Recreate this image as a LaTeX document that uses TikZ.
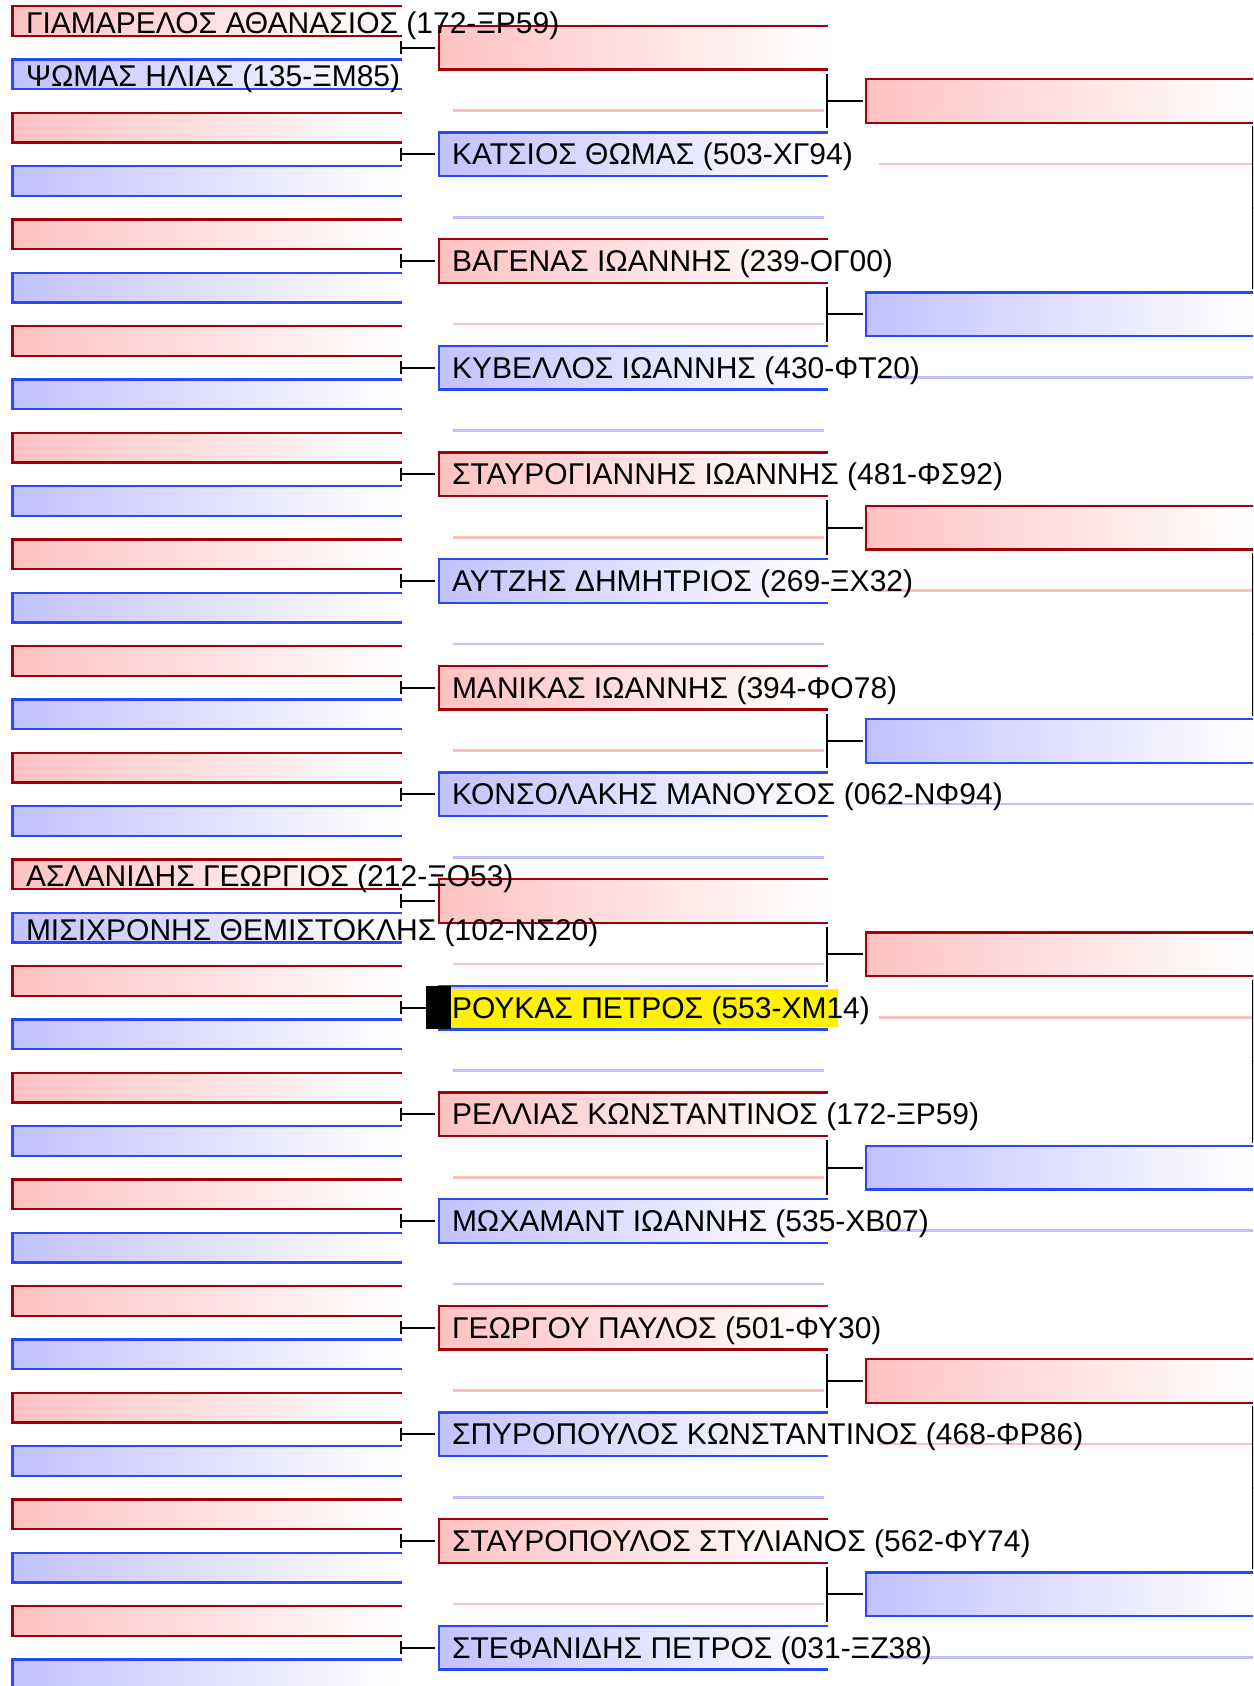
\documentclass[tikz,border=0pt]{standalone}
\usepackage{fontspec}
\setmainfont{Liberation Sans}
\usetikzlibrary{calc}
\definecolor{edgered}{RGB}{160,0,8}
\definecolor{edgeblue}{RGB}{42,72,245}
\tikzstyle{slot} = [rectangle, inner sep=0, minimum width=389pt, right color=white]
\tikzstyle{player} = [anchor=base west, inner sep=0, font=\fontsize{30}{34}\selectfont]
\tikzstyle{bracket} = [black, line width=2pt]
\tikzstyle{pale} = [line width=2.4pt]

\begin{document}
\begin{tikzpicture}[x=1pt, y=-1pt]

    \path[use as bounding box, fill=white] (0,0) rectangle (1253,1686);
    \clip (0,0) rectangle (1253,1686);

    % Round 1: 32 slots
    \foreach \k in {0,...,31}{
        \ifodd\k \def\fc{blue!24}\def\ec{edgeblue}\else \def\fc{red!24}\def\ec{edgered}\fi
        \node (a\k) at (207, {21+53.333*\k}) [slot, left color=\fc, minimum height=29.5pt] {};
        \draw[\ec, line width=2.4pt] (a\k.north east) -- (a\k.north west) -- (a\k.south west) -- (a\k.south east);
    }

    % Round 2: 16 slots, joined to the pairs of round 1
    \foreach \j in {0,...,15}{
        \ifodd\j \def\fc{blue!24}\def\ec{edgeblue}\def\pc{blue!25}\else \def\fc{red!24}\def\ec{edgered}\def\pc{red!25}\fi
        \pgfmathtruncatemacro\ka{2*\j}
        \pgfmathtruncatemacro\kb{2*\j+1}
        \node (b\j) at (633.5, {47.67+106.667*\j}) [slot, left color=\fc, minimum height=43.3pt] {};
        \draw[\ec, line width=2.4pt] (b\j.north east) -- (b\j.north west) -- (b\j.south west) -- (b\j.south east);
        \draw[pale, \pc] ($(b\j.west)+(14,63)$) -- ($(b\j.east)+(-4,63)$);
        \coordinate (p\j) at ($(a\ka.east)!0.5!(a\kb.east)+(-1,0)$);
        \draw[bracket] ($(p\j)+(0,-6.7)$) -- ($(p\j)+(0,6.7)$);
        \draw[bracket, shorten >=4pt] (p\j) -- (p\j -| b\j.west);
    }

    % Round 3: 8 slots, joined to the pairs of round 2
    \foreach \m in {0,...,7}{
        \ifodd\m \def\fc{blue!24}\def\ec{edgeblue}\def\pc{blue!25}\else \def\fc{red!24}\def\ec{edgered}\def\pc{red!25}\fi
        \pgfmathtruncatemacro\ja{2*\m}
        \pgfmathtruncatemacro\jb{2*\m+1}
        \node (c\m) at (1060.5, {101+213.333*\m}) [slot, left color=\fc, minimum height=43.3pt] {};
        \draw[\ec, line width=2.4pt] (c\m.north east) -- (c\m.north west) -- (c\m.south west) -- (c\m.south east);
        \draw[pale, \pc] ($(c\m.west)+(13,63)$) -- ($(c\m.east)+(0,63)$);
        \coordinate (q\m) at ($(b\ja.east)!0.5!(b\jb.east)+(-1.3,0)$);
        \draw[bracket] ($(q\m)+(0,-27.2)$) -- ($(q\m)+(0,27.2)$);
        \draw[bracket, shorten >=3.3pt] (q\m) -- (q\m -| c\m.west);
    }

    % Round 4: only the bars at the right edge
    \foreach \n in {0,...,3}{
        \pgfmathtruncatemacro\ma{2*\n}
        \pgfmathtruncatemacro\mb{2*\n+1}
        \coordinate (s\n) at ($(c\ma.east)!0.5!(c\mb.east)+(-2.5,0)$);
        \draw[bracket] ($(s\n)+(0,-81.5)$) -- ($(s\n)+(0,81.5)$);
        \draw[bracket] (s\n) -- ++(36,0);
    }

    % Highlighted player
    \fill[yellow] ($(b9.west)+(12.5,-19)$) rectangle ($(b9.west)+(399,19)$);
    \fill[black] ($(b9.west)+(-13,-21.7)$) rectangle ($(b9.west)+(12.5,21.7)$);

    % Names, round 1
    \node (n0) at ([xshift=13.5pt,yshift=-12.5pt]a0.west) [player] {ΓΙΑΜΑΡΕΛΟΣ ΑΘΑΝΑΣΙΟΣ (172-ΞΡ59)};
    \node (n1) at ([xshift=13.5pt,yshift=-12.5pt]a1.west) [player] {ΨΩΜΑΣ ΗΛΙΑΣ (135-ΞΜ85)};
    \node (n16) at ([xshift=13.5pt,yshift=-12.5pt]a16.west) [player] {ΑΣΛΑΝΙΔΗΣ ΓΕΩΡΓΙΟΣ (212-ΞΟ53)};
    \node (n17) at ([xshift=13.5pt,yshift=-12.5pt]a17.west) [player] {ΜΙΣΙΧΡΟΝΗΣ ΘΕΜΙΣΤΟΚΛΗΣ (102-ΝΣ20)};

    % Names, round 2
    \node (m1) at ([xshift=13pt,yshift=-10.5pt]b1.west) [player] {ΚΑΤΣΙΟΣ ΘΩΜΑΣ (503-ΧΓ94)};
    \node (m2) at ([xshift=13pt,yshift=-10.5pt]b2.west) [player] {ΒΑΓΕΝΑΣ ΙΩΑΝΝΗΣ (239-ΟΓ00)};
    \node (m3) at ([xshift=13pt,yshift=-10.5pt]b3.west) [player] {ΚΥΒΕΛΛΟΣ ΙΩΑΝΝΗΣ (430-ΦΤ20)};
    \node (m4) at ([xshift=13pt,yshift=-10.5pt]b4.west) [player] {ΣΤΑΥΡΟΓΙΑΝΝΗΣ ΙΩΑΝΝΗΣ (481-ΦΣ92)};
    \node (m5) at ([xshift=13pt,yshift=-10.5pt]b5.west) [player] {ΑΥΤΖΗΣ ΔΗΜΗΤΡΙΟΣ (269-ΞΧ32)};
    \node (m6) at ([xshift=13pt,yshift=-10.5pt]b6.west) [player] {ΜΑΝΙΚΑΣ ΙΩΑΝΝΗΣ (394-ΦΟ78)};
    \node (m7) at ([xshift=13pt,yshift=-10.5pt]b7.west) [player] {ΚΟΝΣΟΛΑΚΗΣ ΜΑΝΟΥΣΟΣ (062-ΝΦ94)};
    \node (m9) at ([xshift=13pt,yshift=-10.5pt]b9.west) [player] {ΡΟΥΚΑΣ ΠΕΤΡΟΣ (553-ΧΜ14)};
    \node (m10) at ([xshift=13pt,yshift=-10.5pt]b10.west) [player] {ΡΕΛΛΙΑΣ ΚΩΝΣΤΑΝΤΙΝΟΣ (172-ΞΡ59)};
    \node (m11) at ([xshift=13pt,yshift=-10.5pt]b11.west) [player] {ΜΩΧΑΜΑΝΤ ΙΩΑΝΝΗΣ (535-ΧΒ07)};
    \node (m12) at ([xshift=13pt,yshift=-10.5pt]b12.west) [player] {ΓΕΩΡΓΟΥ ΠΑΥΛΟΣ (501-ΦΥ30)};
    \node (m13) at ([xshift=13pt,yshift=-10.5pt]b13.west) [player] {ΣΠΥΡΟΠΟΥΛΟΣ ΚΩΝΣΤΑΝΤΙΝΟΣ (468-ΦΡ86)};
    \node (m14) at ([xshift=13pt,yshift=-10.5pt]b14.west) [player] {ΣΤΑΥΡΟΠΟΥΛΟΣ ΣΤΥΛΙΑΝΟΣ (562-ΦΥ74)};
    \node (m15) at ([xshift=13pt,yshift=-10.5pt]b15.west) [player] {ΣΤΕΦΑΝΙΔΗΣ ΠΕΤΡΟΣ (031-ΞΖ38)};

\end{tikzpicture}
\end{document}
